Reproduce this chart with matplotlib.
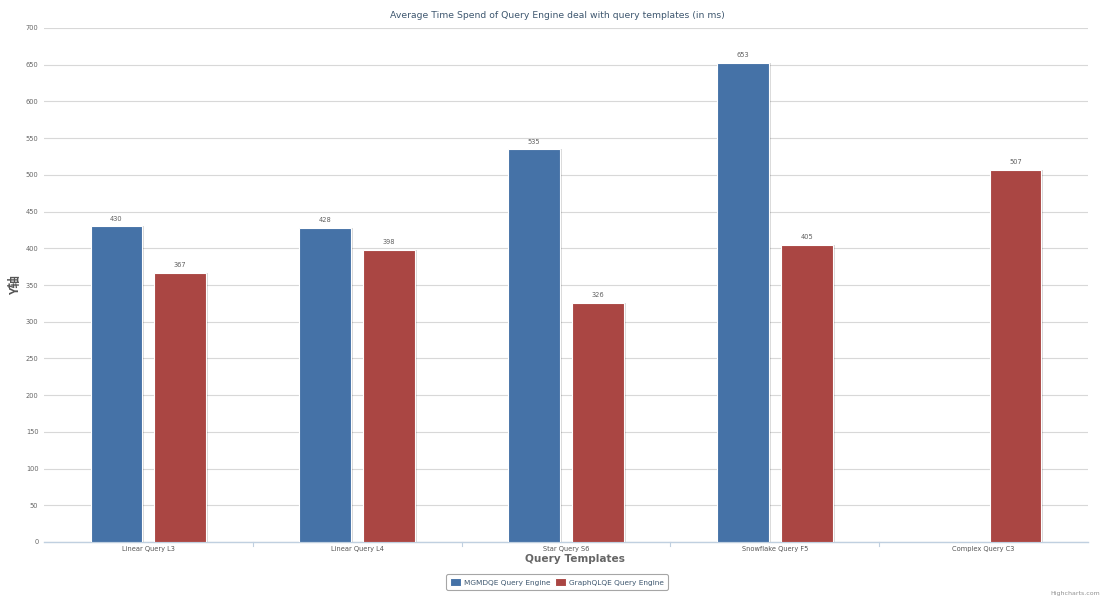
import matplotlib
matplotlib.use("Agg")
import matplotlib.pyplot as plt
import numpy as np

categories = ["Linear Query L3", "Linear Query L4", "Star Query S6", "Snowflake Query F5", "Complex Query C3"]
mgmdqe = [430, 428, 535, 653, None]
graphqlqe = [367, 398, 326, 405, 507]
series_names = ["MGMDQE Query Engine", "GraphQLQE Query Engine"]
yticks = list(range(0, 701, 50))

plt.rcParams['font.family'] = ['DejaVu Sans', 'Noto Sans CJK SC']

fig = plt.figure(figsize=(11.03, 5.97), dpi=100)
ax = fig.add_axes([44/1103, 55/597, (1088-44)/1103, (542-28)/597])

blue = "#4572A7"
red = "#AA4643"
x = np.arange(len(categories))
off = 0.153
w = 0.248

def draw(vals, pos, color):
    xs = [p for p, v in zip(pos, vals) if v is not None]
    vs = [v for v in vals if v is not None]
    # shadow
    ax.bar([p + 0.009 for p in xs], vs, width=w, color="#000000", alpha=0.15, zorder=2, linewidth=0)
    bars = ax.bar(xs, vs, width=w, color=color, edgecolor="white", linewidth=0.8, zorder=3)
    for p, v in zip(xs, vs):
        ax.text(p, v + 6, str(v), ha="center", va="bottom", fontsize=4.8, color="#606060", zorder=4)
    return bars

b1 = draw(mgmdqe, x - off, blue)
b2 = draw(graphqlqe, x + off, red)

ax.set_xlim(-0.5, len(categories) - 0.5)
ax.set_ylim(0, 700)
ax.set_yticks(yticks)
ax.set_yticklabels([str(t) for t in yticks], fontsize=4.8, color="#666666")
ax.set_xticks(x)
ax.set_xticklabels(categories, fontsize=4.8, color="#555555")
ax.tick_params(axis="x", length=0, pad=3)
ax.tick_params(axis="y", length=0, pad=4)
# category boundary ticks
for b in np.arange(0.5, len(categories) - 0.5, 1.0):
    ax.plot([b, b], [0, -0.008], transform=ax.get_xaxis_transform(), color="#C0D0E0", lw=0.8, clip_on=False)

ax.grid(axis="y", color="#D8D8D8", linewidth=0.8, zorder=0)
ax.set_axisbelow(True)
for s in ["top", "right", "left"]:
    ax.spines[s].set_visible(False)
ax.spines["bottom"].set_color("#C0D0E0")
ax.spines["bottom"].set_linewidth(1.0)

fig.text(557/1103, 1 - 16/597, "Average Time Spend of Query Engine deal with query templates (in ms)",
         ha="center", va="center", fontsize=6.7, color="#3E576F")
fig.text(16/1103, 1 - 285/597, "Y轴", rotation=90, ha="center", va="center", fontsize=9,
         fontweight="bold", color="#555555", family=["Noto Sans CJK SC", "DejaVu Sans"])
fig.text(575/1103, 1 - 559/597, "Query Templates", ha="center", va="center", fontsize=7.6,
         fontweight="bold", color="#666666", family="DejaVu Sans")

leg = fig.legend([b1, b2], series_names, loc="center", bbox_to_anchor=(557/1103, 1 - 582/597),
                 ncol=2, fontsize=5.3, frameon=True, fancybox=True, handlelength=1.4, handleheight=1.1,
                 columnspacing=0.7, handletextpad=0.4, borderpad=0.55, labelcolor="#3E576F")
leg.get_frame().set_edgecolor("#909090")
leg.get_frame().set_linewidth(0.8)

fig.text(1100/1103, 1 - 596/597, "Highcharts.com", ha="right", va="bottom", fontsize=4.5, color="#909090")

fig.savefig("out.png", dpi=100, facecolor="white")
